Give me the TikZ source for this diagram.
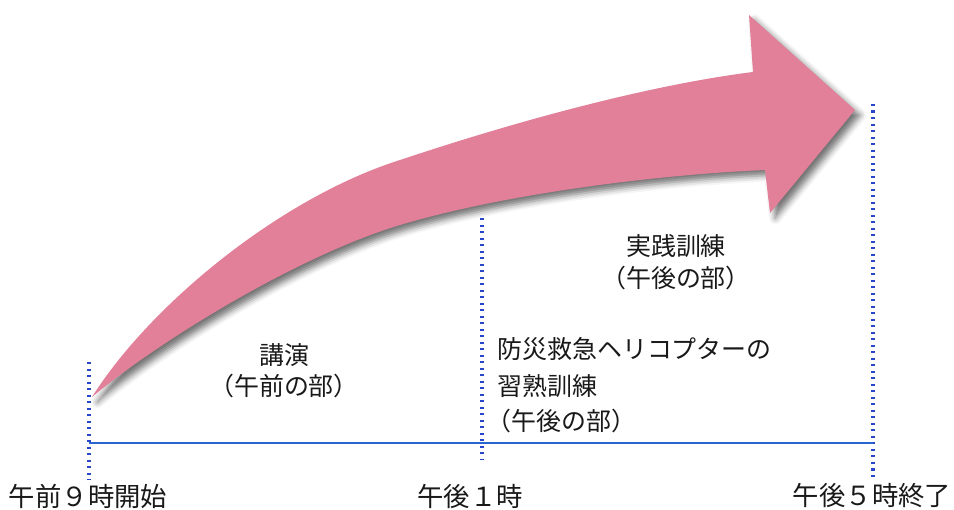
\documentclass[tikz,border=0pt]{standalone}
\usepackage{fontspec}
\newfontfamily\jp{Noto Sans CJK JP}
\usetikzlibrary{shadows.blur}
\definecolor{arrowpink}{RGB}{226,128,154}
\definecolor{lineblue}{RGB}{40,100,210}
\definecolor{dotblue}{RGB}{40,70,200}
\begin{document}
\begin{tikzpicture}[x=0.02cm,y=-0.02cm,
  tick/.style={dotblue,line width=2pt,dash pattern=on 1.4pt off 2.3pt},
  axis/.style={lineblue,line width=1.7pt},
  lbl/.style={font=\jp\fontsize{14.2}{16}\selectfont,text=black!90,inner sep=0pt},
  blbl/.style={font=\jp\fontsize{15}{17}\selectfont,text=black!90,inner sep=0pt}]
\useasboundingbox (0,0) rectangle (954,510);
% big curved arrow
\fill[arrowpink,blur shadow={shadow xshift=3pt,shadow yshift=-3pt,shadow blur radius=3.5pt,shadow opacity=55}]
  (92,397) .. controls (150,305) and (280,198) .. (400,160)
  .. controls (520,120) and (650,85) .. (753,72)
  -- (749,15) -- (855,110) -- (770,213) -- (765,170)
  .. controls (650,175) and (500,195) .. (400,225)
  .. controls (300,255) and (160,340) .. (92,397)
  -- cycle;
% coordinates
\coordinate (t0top) at (89,362);
\coordinate (t0bot) at (89,480);
\coordinate (t1top) at (482,218);
\coordinate (t1bot) at (482,460);
\coordinate (t2top) at (873,104);
\coordinate (t2bot) at (873,477);
\coordinate (a0) at (89,443);
\coordinate (a2) at (873,443);
\draw[tick] (t0top) -- (t0bot);
\draw[tick] (t1top) -- (t1bot);
\draw[tick] (t2top) -- (t2bot);
\draw[axis] (a0) -- (a2);
% bottom labels
\node[blbl] (l0) at (88,496) {午前９時開始};
\node[blbl] (l1) at (470,496) {午後１時};
\node[blbl] (l2) at (872,496) {午後５時終了};
% section labels
\node[lbl] (k1) at (284,355) {講演};
\node[lbl] (k2) at (284,386) {（午前の部）};
\node[lbl] (j1) at (676,246) {実践訓練};
\node[lbl] (j2) at (676,278) {（午後の部）};
\node[lbl,anchor=west] (h1) at (497,349) {防災救急ヘリコプターの};
\node[lbl,anchor=west] (h2) at (497,386) {習熟訓練};
\node[lbl,anchor=west] (h3) at (486,421) {（午後の部）};
\end{tikzpicture}
\end{document}
